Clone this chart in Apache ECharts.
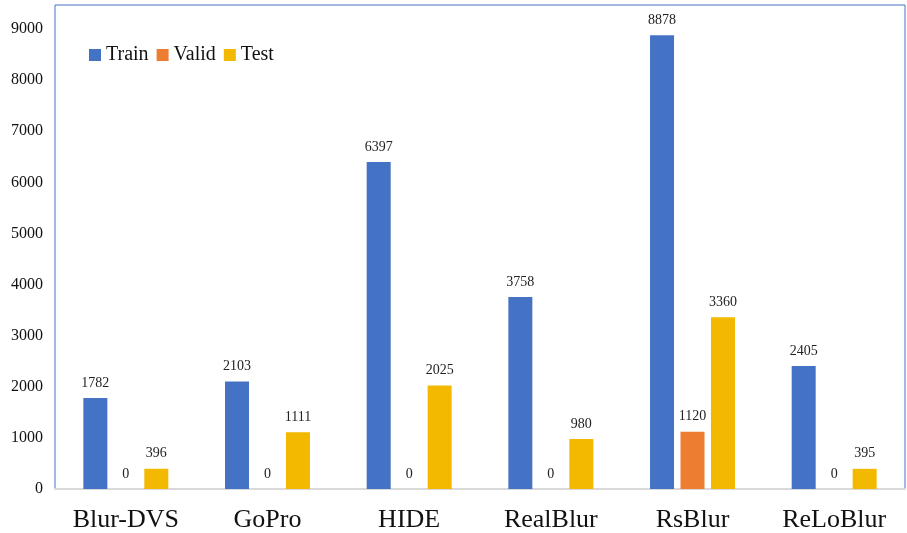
<!DOCTYPE html>
<html>
<head>
<meta charset="utf-8">
<script src="https://cdn.jsdelivr.net/npm/echarts@6/dist/echarts.min.js"></script>
<style>
  html, body { margin: 0; padding: 0; background: #fff; }
  #main { width: 907px; height: 533px; }
</style>
</head>
<body>
<div id="main"></div>
<script>
// datasets and split sizes
var categories = ['Blur-DVS', 'GoPro', 'HIDE', 'RealBlur', 'RsBlur', 'ReLoBlur'];
var trainData = [1782, 2103, 6397, 3758, 8878, 2405];
var validData = [0, 0, 0, 0, 1120, 0];
var testData = [396, 1111, 2025, 980, 3360, 395];

var font = '"Liberation Serif", "Times New Roman", serif';

var chart = echarts.init(document.getElementById('main'), null, { renderer: 'canvas' });

function barSeries(name, data, color) {
  return {
    name: name,
    type: 'bar',
    data: data,
    barWidth: 24,
    barGap: '27%',
    itemStyle: { color: color },
    label: {
      show: true,
      position: 'top',
      distance: 8,
      color: '#222',
      fontFamily: font,
      fontSize: 14
    }
  };
}

var option = {
  backgroundColor: '#ffffff',
  animation: false,
  legend: {
    data: ['Train', 'Valid', 'Test'],
    left: 84,
    top: 40,
    itemWidth: 12,
    itemHeight: 12,
    itemGap: 8,
    icon: 'rect',
    textStyle: { fontFamily: font, fontSize: 20, color: '#111' }
  },
  grid: {
    left: 55,
    right: 2,
    top: 5,
    bottom: 44,
    show: true,
    borderColor: '#4472C4',
    borderWidth: 1
  },
  xAxis: {
    type: 'category',
    data: categories,
    axisTick: { show: false },
    axisLine: { lineStyle: { color: '#d9d9d9', width: 2 } },
    axisLabel: { fontFamily: font, fontSize: 26, color: '#111', margin: 18 }
  },
  yAxis: {
    type: 'value',
    min: 0,
    max: 9470,
    interval: 1000,
    splitLine: { show: false },
    axisLine: { show: false },
    axisTick: { show: false },
    axisLabel: {
      showMaxLabel: false,
      formatter: function (v) { return String(v); },
      fontFamily: font,
      fontSize: 16,
      color: '#111',
      margin: 12
    }
  },
  series: [
    barSeries('Train', trainData, '#4472C4'),
    barSeries('Valid', validData, '#ED7D31'),
    barSeries('Test', testData, '#F2B900')
  ]
};

chart.setOption(option);
</script>
</body>
</html>
